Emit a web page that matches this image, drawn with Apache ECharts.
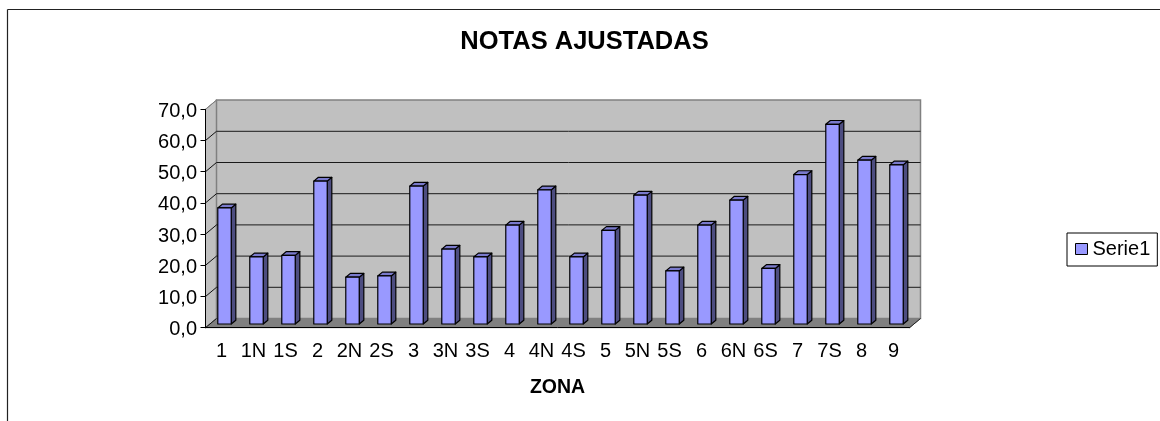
<!DOCTYPE html>
<html>
<head>
<meta charset="utf-8">
<style>html,body{margin:0;padding:0;background:#fff}#c{width:1160px;height:421px}</style>
<script src="https://cdn.jsdelivr.net/npm/echarts@6/dist/echarts.min.js"></script>
</head>
<body>
<div id="c"></div>
<script>
const categories = ['1','1N','1S','2','2N','2S','3','3N','3S','4','4N','4S','5','5N','5S','6','6N','6S','7','7S','8','9'];
const notas = [37.2,21.5,22,45.8,15,15.4,44.2,24,21.5,31.7,43,21.5,30,41.3,17,31.7,39.7,17.8,47.9,64,52.5,51];
const yTicks = [0,10,20,30,40,50,60,70];
const FONT = '"Liberation Sans", Arial, sans-serif';
const DX = 11, DY = -9.2;

const chart = echarts.init(document.getElementById('c'), null, {renderer:'canvas'});

function renderWalls(params, api) {
  const cs = params.coordSys;
  const xL = cs.x, xR = cs.x + cs.width, y0 = cs.y + cs.height, yT = cs.y;
  const kids = [
    {type:'polygon', shape:{points:[[xL,y0],[xL+DX,y0+DY],[xL+DX,yT+DY],[xL,yT]]}, style:{fill:'#c0c0c0', stroke:'#808080', lineWidth:1}},
    {type:'rect', shape:{x:xL+DX, y:yT+DY, width:cs.width, height:cs.height}, style:{fill:'#c0c0c0', stroke:'#808080', lineWidth:1.5}},
    {type:'polygon', shape:{points:[[xL,y0],[xR,y0],[xR+DX,y0+DY],[xL+DX,y0+DY]]}, style:{fill:'#808080', stroke:'#808080', lineWidth:1}}
  ];
  yTicks.forEach(function (t) {
    const y = api.coord([0, t])[1];
    if (t > 0 && t < 70) {
      kids.push({type:'line', shape:{x1:xL+DX, y1:y+DY, x2:xR+DX, y2:y+DY}, style:{stroke:'#1a1a1a', lineWidth:1}});
    }
    kids.push({type:'line', shape:{x1:xL, y1:y, x2:xL+DX, y2:y+DY}, style:{stroke: t === 70 ? '#808080' : '#111', lineWidth:1}});
  });
  kids.push({type:'line', shape:{x1:xR, y1:y0, x2:xR+DX, y2:y0+DY}, style:{stroke:'#222', lineWidth:1}});
  return {type:'group', children:kids};
}

function renderBar(params, api) {
  const idx = api.value(0), val = api.value(1);
  const band = api.size([1,0])[0];
  const p0 = api.coord([idx, 0]), p1 = api.coord([idx, val]);
  const w = band * 0.42, shiftX = 3, shiftY = 3.7, d = 4.6, e = -3.8;
  const l = p0[0] - w/2 + shiftX, r = l + w, b = p0[1] - shiftY, t = p1[1] - shiftY;
  const line = {stroke:'#000', lineWidth:1.2, lineJoin:'round'};
  return {type:'group', children:[
    {type:'polygon', shape:{points:[[r,b],[r+d,b+e],[r+d,t+e],[r,t]]}, style:Object.assign({fill:'#4d4d80'}, line)},
    {type:'polygon', shape:{points:[[l,t],[r,t],[r+d,t+e],[l+d,t+e]]}, style:Object.assign({fill:'#7a7acc'}, line)},
    {type:'rect', shape:{x:l, y:t, width:w, height:b-t}, style:Object.assign({fill:'#9999ff'}, line)}
  ]};
}

chart.setOption({
  animation:false,
  backgroundColor:'#fff',
  title:{
    text:'NOTAS AJUSTADAS', left:579.5, top:24, textAlign:'center',
    textStyle:{fontFamily:FONT, fontSize:25.5, fontWeight:'bold', color:'#000'}
  },
  legend:{
    data:[{name:'Serie1', icon:'rect', itemStyle:{color:'#9999ff', borderColor:'#000', borderWidth:1}}],
    left:1067, top:233, orient:'vertical',
    padding:[6,7,7,8], itemWidth:12, itemHeight:11, itemGap:0,
    borderColor:'#000', borderWidth:1, backgroundColor:'#fff',
    textStyle:{fontFamily:FONT, fontSize:20, color:'#000', padding:[0,0,0,0]}
  },
  grid:{left:205.5, top:109.3, width:704, height:218.4},
  xAxis:{
    type:'category', data:categories, z:5,
    name:'ZONA', nameLocation:'middle', nameGap:50,
    nameTextStyle:{fontFamily:FONT, fontSize:19.5, fontWeight:'bold', color:'#000'},
    axisLine:{lineStyle:{color:'#000', width:1}},
    axisTick:{length:5, alignWithLabel:false, lineStyle:{color:'#000'}},
    axisLabel:{fontFamily:FONT, fontSize:20, color:'#000', margin:14, interval:0},
    splitLine:{show:false}
  },
  yAxis:{
    type:'value', min:0, max:70, interval:10, z:5,
    axisLine:{show:true, lineStyle:{color:'#000', width:1}},
    axisTick:{show:true, length:5, lineStyle:{color:'#000'}},
    axisLabel:{fontFamily:FONT, fontSize:20, color:'#000', margin:8.5,
      rich:{n:{fontFamily:FONT, fontSize:20, color:'#000', padding:[4,0,0,0]}},
      formatter:function (v) { return '{n|' + v.toFixed(1).replace('.', ',') + '}'; }},
    splitLine:{show:false}
  },
  graphic:[
    {type:'line', silent:true, shape:{x1:7.5, y1:9.5, x2:1160, y2:9.5}, style:{stroke:'#222', lineWidth:1.2}},
    {type:'line', silent:true, shape:{x1:7.5, y1:9.5, x2:7.5, y2:421}, style:{stroke:'#222', lineWidth:1.2}}
  ],
  series:[
    {type:'custom', name:'paredes', silent:true, z:1, renderItem:renderWalls, data:[[0,0]], clip:false, encode:{x:0,y:1}},
    {type:'custom', name:'Serie1', z:6, renderItem:renderBar, clip:false,
      itemStyle:{color:'#9999ff'},
      encode:{x:0,y:1},
      data:notas.map(function (v,i) { return [i,v]; })}
  ]
});
</script>
</body>
</html>
